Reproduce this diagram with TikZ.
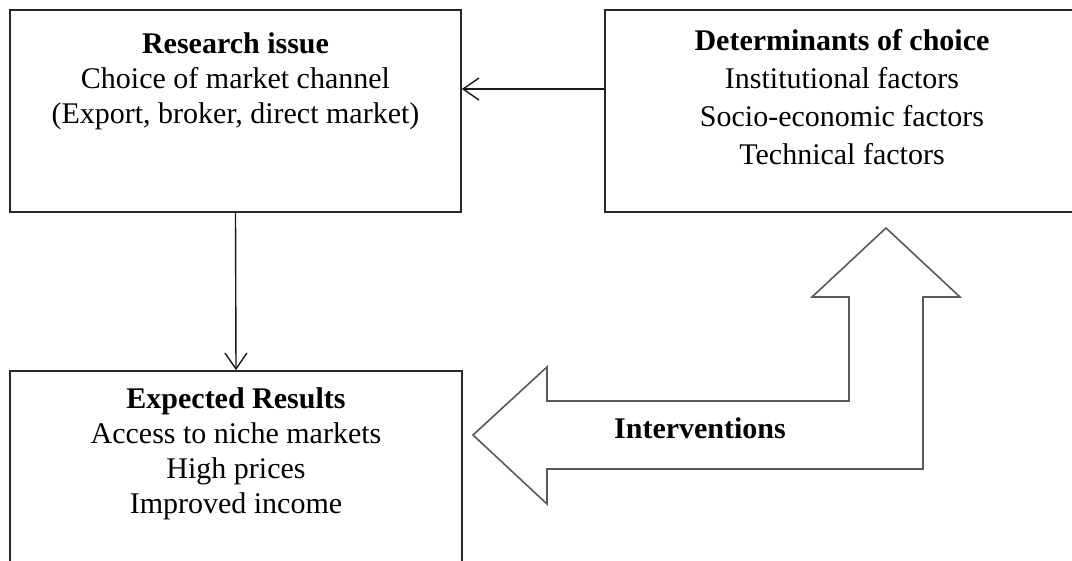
\documentclass[tikz,border=0pt]{standalone}
\usepackage{fontspec}
\setmainfont{Liberation Serif}
\usetikzlibrary{arrows.meta}
\begin{document}
\begin{tikzpicture}[x=1pt,y=-1pt,
  box/.style={draw=black!85,line width=1.6pt,rectangle,inner sep=0pt},
  txt/.style={align=center,inner sep=0pt,anchor=north},
  arr/.style={draw=black!90,line width=1.4pt,-{Straight Barb[length=16pt,width=22pt,line width=1.4pt]}},
  blockarrow/.style={draw=black!65,line width=1.6pt,line join=miter,fill=white}]
\useasboundingbox (0,0) rectangle (1072,561);
% boxes
\node[box,minimum width=451pt,minimum height=202pt] (res) at (235.5,111) {};
\node[box,minimum width=474pt,minimum height=202pt] (det) at (842,111) {};
\node[box,minimum width=452pt,minimum height=204pt] (exp) at (236,473) {};
% texts
\node[txt,font=\fontsize{30}{35}\selectfont] (restxt) at (235.5,32.5)
  {\textbf{Research issue}\\Choice of market channel\\(Export, broker, direct market)};
\node[txt,font=\fontsize{30}{38}\selectfont] (dettxt) at (842,29.5)
  {\textbf{Determinants of choice}\\Institutional factors\\Socio-economic factors\\Technical factors};
\node[txt,font=\fontsize{30}{35}\selectfont] (exptxt) at (236,387.5)
  {\textbf{Expected Results}\\Access to niche markets\\High prices\\Improved income};
% connectors
\draw[arr] ([yshift=22pt]det.west) -- ([yshift=22pt]res.east);
\draw[arr] (res.south) -- (exp.north);
% block arrow (interventions)
\draw[blockarrow] (473,435) -- (547,367) -- (547,401) -- (849,401) -- (849,297)
  -- (812,297) -- (886,228) -- (960,297) -- (923,297) -- (923,469)
  -- (547,469) -- (547,504) -- cycle;
\node[font=\fontsize{30}{35}\selectfont\bfseries,inner sep=0pt] (interv) at (700,428) {Interventions};
\end{tikzpicture}
\end{document}
